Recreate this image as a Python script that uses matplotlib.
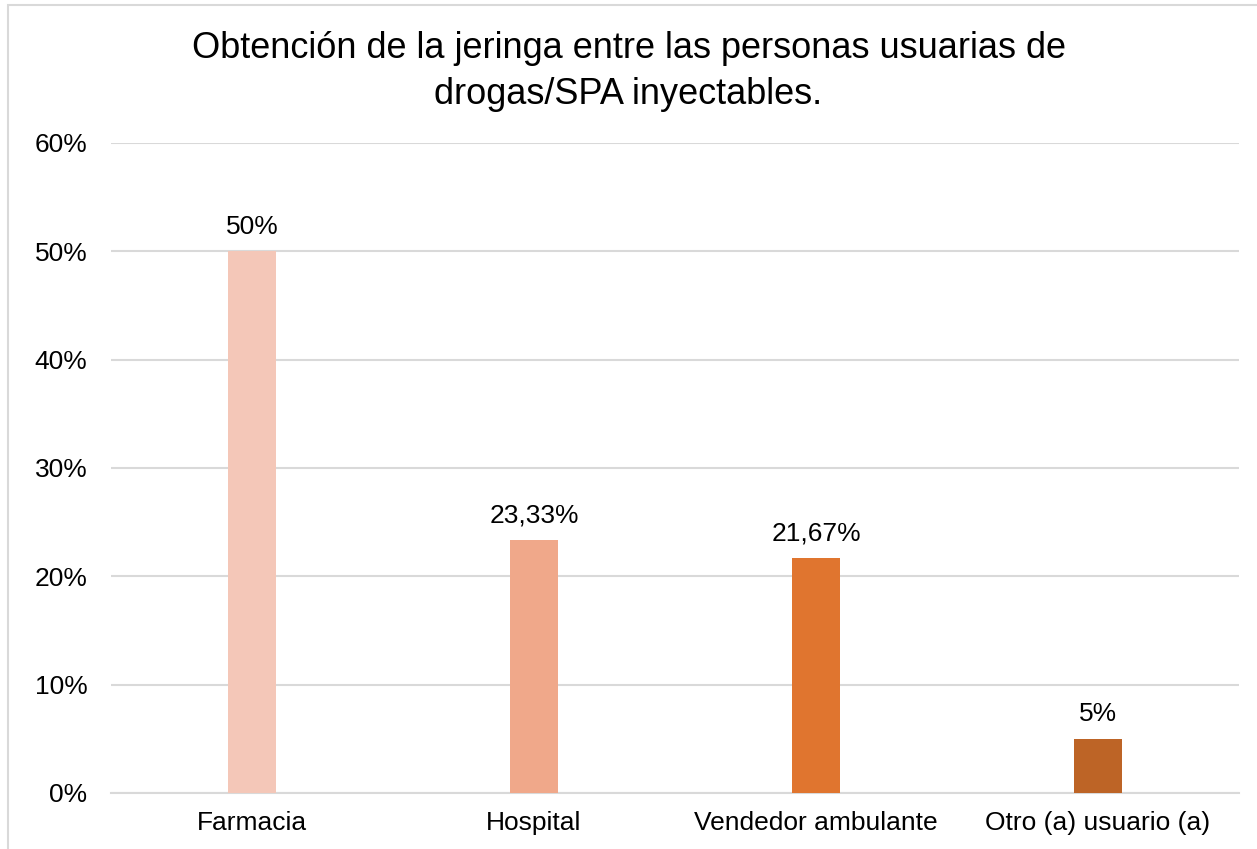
import matplotlib.pyplot as plt
from matplotlib.patches import Rectangle
from matplotlib.ticker import FuncFormatter

categories = ["Farmacia", "Hospital", "Vendedor ambulante", "Otro (a) usuario (a)"]
values = [50, 23.33, 21.67, 5]
colors = ["#F4C7B8", "#F0A88A", "#E0752F", "#BD6426"]
title = "Obtención de la jeringa entre las personas usuarias de\ndrogas/SPA inyectables."

plt.rcParams['font.family'] = ['Liberation Sans', 'DejaVu Sans']

fig = plt.figure(figsize=(12.57, 8.49), dpi=100)
ax = fig.add_axes([0.0883, 0.066, 0.8974, 0.7656])

x = range(len(categories))
bars = ax.bar(x, values, width=0.17, color=colors, zorder=3)

for b, v in zip(bars, values):
    lbl = f"{v:g}".replace(".", ",") + "%"
    ax.annotate(lbl, (b.get_x() + b.get_width() / 2, v), xytext=(0, 9),
                textcoords="offset points", ha="center", va="bottom", fontsize=19)

ax.set_xlim(-0.5, len(categories) - 0.5)
ax.set_ylim(0, 60)
ax.set_yticks(range(0, 61, 10))
ax.yaxis.set_major_formatter(FuncFormatter(lambda v, p: f"{v:.0f}%"))
ax.set_xticks(list(x))
ax.set_xticklabels(categories)
ax.tick_params(axis="both", length=0, labelsize=19)
ax.tick_params(axis="y", pad=17)
ax.tick_params(axis="x", pad=13)
ax.grid(axis="y", color="#D9D9D9", linewidth=1.5, zorder=0)
for s in ["top", "right", "left"]:
    ax.spines[s].set_visible(False)
ax.spines["bottom"].set_color("#D9D9D9")
ax.spines["bottom"].set_linewidth(1.5)

fig.text(0.5, 0.916, title, ha="center", va="center", fontsize=26, linespacing=1.4)

# chart area border
fig.patches.append(Rectangle((7.5 / 1257, -0.1), 1.2, 1 - 5 / 849 + 0.1,
                             transform=fig.transFigure, fill=False,
                             edgecolor="#D9D9D9", linewidth=1.5))

fig.savefig("out.png", dpi=100)
